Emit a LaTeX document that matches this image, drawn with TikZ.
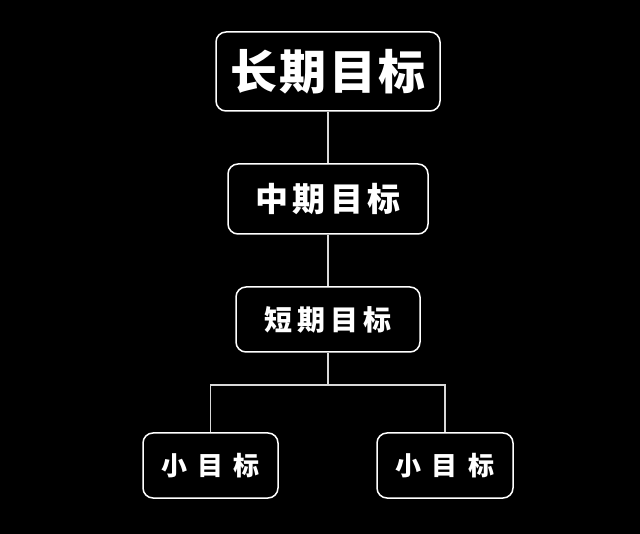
\documentclass[tikz,border=0pt]{standalone}
\usepackage{fontspec}
\newfontfamily\cjk{Noto Sans CJK SC}
\tikzset{
	goal/.style={draw=white, line width=1.5pt, rounded corners=10pt, text=white, inner sep=0pt, font=\cjk\bfseries},
	link/.style={draw=white!85!black, line width=1.5pt}
}
\begin{document}
\begin{tikzpicture}[x=1pt, y=-1pt]
		\fill[black] (0,0) rectangle (640,534);
		\useasboundingbox (0,0) rectangle (640,534);
		\node[goal, minimum width=224pt, minimum height=79pt, font=\cjk\bfseries\fontsize{47}{50}\selectfont\addfontfeatures{LetterSpace=5}] (long) at (328, 71.5) {长期目标};
		\node[goal, minimum width=200pt, minimum height=70pt, font=\cjk\bfseries\fontsize{33}{36}\selectfont\addfontfeatures{LetterSpace=14}] (mid) at (328, 199) {中期目标};
		\node[goal, minimum width=184pt, minimum height=65pt, font=\cjk\bfseries\fontsize{28}{30}\selectfont\addfontfeatures{LetterSpace=19}] (short) at (328, 319.5) {短期目标};
		\node[goal, minimum width=135pt, minimum height=65pt, font=\cjk\bfseries\fontsize{26}{28}\selectfont\addfontfeatures{LetterSpace=40}] (smallA) at (210.5, 465.5) {小目标};
		\node[goal, minimum width=136pt, minimum height=65pt, font=\cjk\bfseries\fontsize{26}{28}\selectfont\addfontfeatures{LetterSpace=40}] (smallB) at (445, 465.5) {小目标};
		\coordinate (fork) at (328, 385);
		\draw[link] (long.south) -- (mid.north);
		\draw[link] (mid.south) -- (short.north);
		\draw[link] (short.south) -- (fork);
		\draw[link] (smallA.north) |- (fork) -| (smallB.north);
	\end{tikzpicture}
\end{document}
